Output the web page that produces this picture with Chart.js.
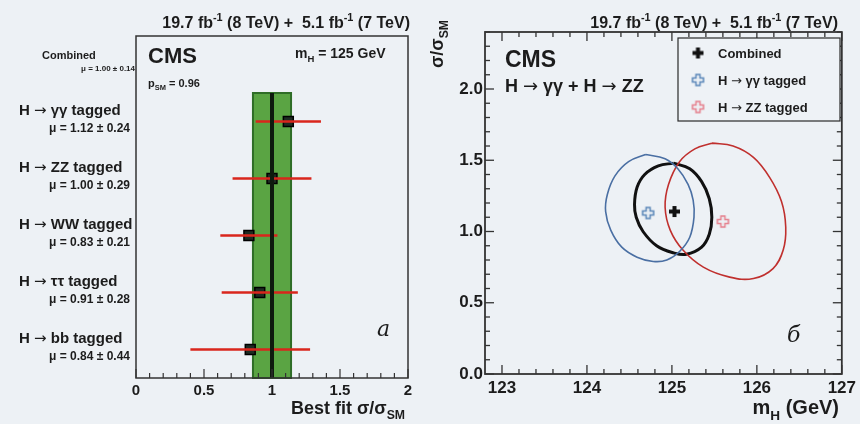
<!DOCTYPE html>
<html>
<head>
<meta charset="utf-8">
<script src="https://cdn.jsdelivr.net/npm/chart.js@4.4.1/dist/chart.umd.min.js"></script>
<style>
  body { margin: 0; background: #edf1f5; width: 860px; height: 424px; overflow: hidden; position: relative; }
  canvas { position: absolute; top: 0; }
  #painelA { left: 0; }
  #painelB { left: 430px; }
</style>
</head>
<body>
<canvas id="painelA" width="430" height="424"></canvas>
<canvas id="painelB" width="430" height="424"></canvas>
<script>
// (a) best fit sigma/sigma_SM per channel
const canais = ['Combined', 'H \u2192 \u03b3\u03b3 tagged', 'H \u2192 ZZ tagged', 'H \u2192 WW tagged', 'H \u2192 \u03c4\u03c4 tagged', 'H \u2192 bb tagged'];
const mu = [1.00, 1.12, 1.00, 0.83, 0.91, 0.84];
const muErr = [0.14, 0.24, 0.29, 0.21, 0.28, 0.44];
const linhas = [5, 4, 3, 2, 1, 0];
const xTicksA = [0, 0.5, 1, 1.5, 2];

// (b) 68% CL contours in (mH, sigma/sigma_SM)
const combMH = [125.02, 125.21, 125.35, 125.44, 125.47, 125.44, 125.35, 125.17, 125.02, 124.82, 124.66, 124.58, 124.56, 124.59, 124.68, 124.84];
const combMu = [1.48, 1.44, 1.35, 1.23, 1.10, 0.98, 0.89, 0.84, 0.85, 0.90, 1.00, 1.10, 1.19, 1.31, 1.40, 1.46];
const ggMH = [124.69, 124.92, 125.07, 125.19, 125.25, 125.26, 125.21, 125.09, 124.94, 124.78, 124.59, 124.41, 124.28, 124.22, 124.24, 124.33, 124.49];
const ggMu = [1.54, 1.51, 1.44, 1.33, 1.22, 1.10, 0.96, 0.86, 0.80, 0.79, 0.82, 0.89, 1.01, 1.14, 1.26, 1.39, 1.49];
const zzMH = [125.47, 125.72, 125.96, 126.15, 126.29, 126.34, 126.31, 126.19, 125.96, 125.68, 125.37, 125.13, 124.98, 124.92, 124.96, 125.09, 125.27];
const zzMu = [1.62, 1.60, 1.52, 1.38, 1.21, 1.03, 0.87, 0.74, 0.67, 0.68, 0.75, 0.87, 1.01, 1.17, 1.33, 1.49, 1.58];
const melhorMH = [125.03, 124.72, 125.60];
const melhorMu = [1.14, 1.13, 1.07];
const legendaB = ['Combined', 'H \u2192 \u03b3\u03b3 tagged', 'H \u2192 ZZ tagged'];
const xTicksB = [123, 124, 125, 126, 127];
const yTicksB = [0.0, 0.5, 1.0, 1.5, 2.0];

const FAM = '"Liberation Sans", Arial, sans-serif';
const FAM_SETA = '"DejaVu Sans", sans-serif';
const TINTA = '#1c1c1c';

// texto com sub/sup; a seta sai numa fonte com glifo maior
function rich(ctx, parts, x, y, size, align, weight) {
  const pedacos = [];
  parts.forEach(([t, m]) => {
    t.split(/(\u2192)/).forEach(p => { if (p) pedacos.push([p, m]); });
  });
  let w = 0;
  const seg = pedacos.map(([t, m]) => {
    const s = m ? size * 0.68 : size;
    const fam = t === '\u2192' ? FAM_SETA : FAM;
    const font = (t === '\u2192' ? 'normal' : weight) + ' ' + s + 'px ' + fam;
    ctx.font = font;
    const sw = ctx.measureText(t).width;
    w += sw;
    return { t, m, sw, font };
  });
  let cx = align === 'right' ? x - w : x;
  ctx.textAlign = 'left';
  ctx.textBaseline = 'alphabetic';
  seg.forEach(g => {
    ctx.font = g.font;
    const dy = g.m === 'sub' ? size * 0.28 : g.m === 'sup' ? -size * 0.42 : 0;
    ctx.fillText(g.t, cx, y + dy);
    cx += g.sw;
  });
}

function cruz(tam, braco, fill, stroke) {
  const c = document.createElement('canvas');
  c.width = tam + 4; c.height = tam + 4;
  const g = c.getContext('2d');
  const m = (tam + 4) / 2, s = tam / 2, a = braco / 2;
  g.beginPath();
  g.moveTo(m - a, m - s); g.lineTo(m + a, m - s); g.lineTo(m + a, m - a); g.lineTo(m + s, m - a);
  g.lineTo(m + s, m + a); g.lineTo(m + a, m + a); g.lineTo(m + a, m + s); g.lineTo(m - a, m + s);
  g.lineTo(m - a, m + a); g.lineTo(m - s, m + a); g.lineTo(m - s, m - a); g.lineTo(m - a, m - a);
  g.closePath();
  if (fill) { g.fillStyle = fill; g.fill(); }
  if (stroke) { g.strokeStyle = stroke; g.lineWidth = 1.5; g.stroke(); }
  return c;
}
const cruzComb = cruz(11, 4, '#111', null);
const cruzGG = cruz(11, 4, null, '#5a86b8');
const cruzZZ = cruz(11, 4, null, '#e57f8c');

function tiques(ctx, scale, from, to, step, isMajor, lado, area) {
  for (let v = from; v <= to + 1e-6; v += step) {
    const len = isMajor(v) ? 9 : 5;
    const p = scale.getPixelForValue(v);
    ctx.beginPath();
    if (lado === 'bottom') { ctx.moveTo(p, area.bottom); ctx.lineTo(p, area.bottom - len); }
    if (lado === 'top') { ctx.moveTo(p, area.top); ctx.lineTo(p, area.top + len); }
    if (lado === 'left') { ctx.moveTo(area.left, p); ctx.lineTo(area.left + len, p); }
    if (lado === 'right') { ctx.moveTo(area.right, p); ctx.lineTo(area.right - len, p); }
    ctx.stroke();
  }
}

const tituloLumi = [['19.7 fb', ''], ['-1', 'sup'], [' (8 TeV) +  5.1 fb', ''], ['-1', 'sup'], [' (7 TeV)', '']];

// ---------- painel a ----------
const barras = [];
linhas.forEach((r, i) => {
  if (i === 0) return;
  barras.push({ x: mu[i] - muErr[i], y: r }, { x: mu[i] + muErr[i], y: r }, { x: mu[i], y: null });
});
const pontos = linhas.slice(1).map((r, i) => ({ x: mu[i + 1], y: r }));
const bandaTopo = 4.5;

const extrasA = {
  id: 'extrasA',
  beforeDatasetsDraw(chart) {
    const { ctx, scales: { x, y } } = chart;
    const x0 = x.getPixelForValue(mu[0] - muErr[0]);
    const x1 = x.getPixelForValue(mu[0] + muErr[0]);
    const yT = y.getPixelForValue(bandaTopo);
    const yB = y.getPixelForValue(-0.5);
    ctx.save();
    ctx.fillStyle = '#5aa443';
    ctx.fillRect(x0, yT, x1 - x0, yB - yT);
    ctx.strokeStyle = '#2f6d27';
    ctx.lineWidth = 2;
    ctx.strokeRect(x0, yT, x1 - x0, yB - yT);
    ctx.restore();
  },
  afterDraw(chart) {
    const { ctx, chartArea: a, scales: { x, y } } = chart;
    ctx.save();
    ctx.strokeStyle = '#333';
    ctx.lineWidth = 1.5;
    ctx.strokeRect(a.left, a.top, a.right - a.left, a.bottom - a.top);
    ctx.lineWidth = 1.2;
    tiques(ctx, x, 0, 2, 0.1, v => Math.abs(v * 2 - Math.round(v * 2)) < 1e-6, 'bottom', a);

    ctx.fillStyle = TINTA;
    rich(ctx, tituloLumi, 410, 28, 16, 'right', 'bold');
    ctx.font = 'bold 22px ' + FAM;
    ctx.fillText('CMS', 148, 63);
    rich(ctx, [['m', ''], ['H', 'sub'], [' = 125 GeV', '']], 295, 58, 14, 'left', 'bold');
    rich(ctx, [['p', ''], ['SM', 'sub'], [' = 0.96', '']], 148, 87, 11, 'left', 'bold');
    ctx.font = 'italic 22px "DejaVu Serif", "Liberation Serif", serif';
    ctx.fillText('a', 377, 336);
    rich(ctx, [['Best fit \u03c3/\u03c3', ''], ['SM', 'sub']], 405, 414, 18, 'right', 'bold');

    linhas.forEach((r, i) => {
      const py = y.getPixelForValue(r);
      const txtMu = '\u03bc = ' + mu[i].toFixed(2) + ' \u00b1 ' + muErr[i].toFixed(2);
      if (i === 0) {
        rich(ctx, [[canais[i], '']], 42, py - 6, 11, 'left', 'bold');
        rich(ctx, [[txtMu, '']], 135, py + 6, 8, 'right', 'bold');
      } else {
        rich(ctx, [[canais[i], '']], 19, py - 7, 15, 'left', 'bold');
        rich(ctx, [[txtMu, '']], 130, py + 10, 12, 'right', 'bold');
      }
    });
    ctx.restore();
  }
};

new Chart(document.getElementById('painelA').getContext('2d'), {
  type: 'scatter',
  data: {
    datasets: [
      { data: [{ x: mu[0], y: -0.5 }, { x: mu[0], y: bandaTopo }], showLine: true, borderColor: '#0e1a0e', borderWidth: 4, pointRadius: 0 },
      { data: barras, showLine: true, spanGaps: false, borderColor: '#d9261c', borderWidth: 2.5, pointRadius: 0 },
      { data: pontos, pointStyle: 'rect', pointRadius: 7, backgroundColor: '#1d2b22', borderColor: '#000', borderWidth: 1.5 }
    ]
  },
  options: {
    responsive: false,
    devicePixelRatio: 1,
    animation: false,
    layout: { padding: { top: 36, right: 22, left: 0, bottom: 0 } },
    plugins: { legend: { display: false }, tooltip: { enabled: false } },
    scales: {
      x: {
        type: 'linear', min: 0, max: 2,
        afterBuildTicks: s => { s.ticks = xTicksA.map(v => ({ value: v })); },
        afterFit: s => { s.height = 46; },
        ticks: { callback: v => String(v), font: { family: FAM, size: 15, weight: 'bold' }, color: TINTA, padding: 4, maxRotation: 0 },
        grid: { display: false, drawTicks: false },
        border: { display: false }
      },
      y: {
        type: 'linear', min: -0.5, max: 5.5,
        afterFit: s => { s.width = 136; },
        ticks: { display: false },
        grid: { display: false, drawTicks: false },
        border: { display: false }
      }
    }
  },
  plugins: [extrasA]
});

// ---------- painel b ----------
function fechar(xs, ys) {
  const d = xs.map((v, i) => ({ x: v, y: ys[i] }));
  d.push({ x: xs[0], y: ys[0] });
  return d;
}

const extrasB = {
  id: 'extrasB',
  afterDraw(chart) {
    const { ctx, chartArea: a, scales: { x, y } } = chart;
    ctx.save();
    ctx.strokeStyle = '#333';
    ctx.lineWidth = 1.8;
    ctx.strokeRect(a.left, a.top, a.right - a.left, a.bottom - a.top);
    ctx.lineWidth = 1.3;
    const maiorX = v => Math.abs(v - Math.round(v)) < 1e-6;
    const maiorY = v => Math.abs(v * 2 - Math.round(v * 2)) < 1e-6;
    tiques(ctx, x, 123, 127, 0.2, maiorX, 'bottom', a);
    tiques(ctx, x, 123, 127, 0.2, maiorX, 'top', a);
    tiques(ctx, y, 0, 2.4, 0.1, maiorY, 'left', a);
    tiques(ctx, y, 0, 2.4, 0.1, maiorY, 'right', a);

    ctx.fillStyle = TINTA;
    rich(ctx, tituloLumi, 408, 28, 16, 'right', 'bold');
    ctx.font = 'bold 23px ' + FAM;
    ctx.fillText('CMS', 75, 67);
    rich(ctx, [['H \u2192 \u03b3\u03b3 + H \u2192 ZZ', '']], 75, 92, 18, 'left', 'bold');
    ctx.font = 'italic 22px "DejaVu Serif", "Liberation Serif", serif';
    ctx.fillText('\u0431', 357, 342);
    rich(ctx, [['m', ''], ['H', 'sub'], [' (GeV)', '']], 409, 414, 20, 'right', 'bold');

    ctx.save();
    ctx.translate(13, 68);
    ctx.rotate(-Math.PI / 2);
    rich(ctx, [['\u03c3/\u03c3', ''], ['SM', 'sub']], 0, 0, 18, 'left', 'bold');
    ctx.restore();

    // legenda
    ctx.fillStyle = '#eef2f6';
    ctx.fillRect(248, 38, 162, 83);
    ctx.strokeStyle = '#2a2a2a';
    ctx.lineWidth = 1.2;
    ctx.strokeRect(248, 38, 162, 83);
    const icones = [cruzComb, cruzGG, cruzZZ];
    legendaB.forEach((t, i) => {
      const cy = 53 + i * 27;
      ctx.drawImage(icones[i], 268 - icones[i].width / 2, cy - icones[i].height / 2);
      ctx.fillStyle = TINTA;
      rich(ctx, [[t, '']], 288, cy + 5, 13, 'left', 'bold');
    });
    ctx.restore();
  }
};

new Chart(document.getElementById('painelB').getContext('2d'), {
  type: 'scatter',
  data: {
    datasets: [
      { data: fechar(ggMH, ggMu), showLine: true, tension: 0.4, borderColor: '#4a6fa3', borderWidth: 1.6, pointRadius: 0 },
      { data: fechar(zzMH, zzMu), showLine: true, tension: 0.4, borderColor: '#c0302e', borderWidth: 1.6, pointRadius: 0 },
      { data: fechar(combMH, combMu), showLine: true, tension: 0.4, borderColor: '#111', borderWidth: 3, pointRadius: 0 },
      { data: [{ x: melhorMH[1], y: melhorMu[1] }], pointStyle: cruzGG, pointRadius: 6 },
      { data: [{ x: melhorMH[2], y: melhorMu[2] }], pointStyle: cruzZZ, pointRadius: 6 },
      { data: [{ x: melhorMH[0], y: melhorMu[0] }], pointStyle: cruzComb, pointRadius: 6 }
    ]
  },
  options: {
    responsive: false,
    devicePixelRatio: 1,
    animation: false,
    layout: { padding: { top: 32, right: 18, left: 0, bottom: 0 } },
    plugins: { legend: { display: false }, tooltip: { enabled: false } },
    scales: {
      x: {
        type: 'linear', min: 122.8, max: 127,
        afterBuildTicks: s => { s.ticks = xTicksB.map(v => ({ value: v })); },
        afterFit: s => { s.height = 50; },
        ticks: { callback: v => String(v), font: { family: FAM, size: 17, weight: 'bold' }, color: TINTA, padding: 4, maxRotation: 0 },
        grid: { display: false, drawTicks: false },
        border: { display: false }
      },
      y: {
        type: 'linear', min: 0, max: 2.4,
        afterBuildTicks: s => { s.ticks = yTicksB.map(v => ({ value: v })); },
        afterFit: s => { s.width = 55; },
        ticks: { callback: v => v.toFixed(1), font: { family: FAM, size: 17, weight: 'bold' }, color: TINTA, padding: 2 },
        grid: { display: false, drawTicks: false },
        border: { display: false }
      }
    }
  },
  plugins: [extrasB]
});
</script>
</body>
</html>
